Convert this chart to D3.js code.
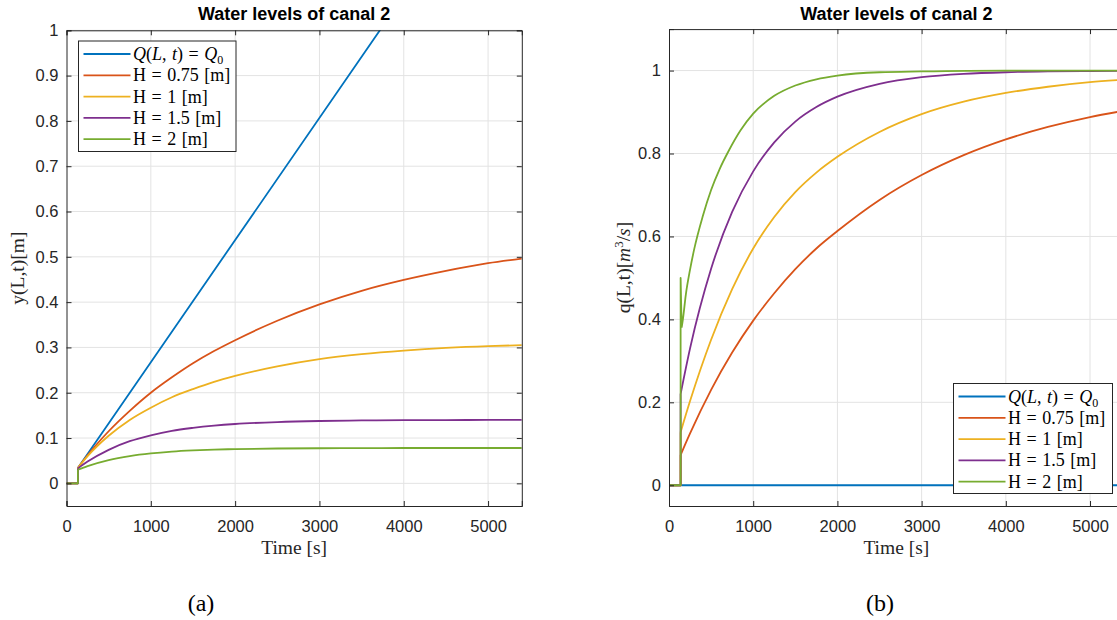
<!DOCTYPE html>
<html>
<head>
<meta charset="utf-8">
<script src="https://cdn.jsdelivr.net/npm/d3@7"></script>
<style>
  html, body { margin: 0; padding: 0; background: #ffffff; }
  svg { display: block; }
</style>
</head>
<body>
<svg id="chart" width="1117" height="620"></svg>
<script>
// ---------- Data ----------
// Series labels and colours (MATLAB default palette)
const seriesNames = ["Q(L,t) = Q0", "H = 0.75 [m]", "H = 1 [m]", "H = 1.5 [m]", "H = 2 [m]"];
const seriesColors = ["#0072BD", "#D95319", "#EDB120", "#7E2F8E", "#77AC30"];

// Panel (a): water level y(L,t) [m] versus time [s]
const levelQ0Time = [0, 135, 135, 5400];
const levelQ0 = [0, 0, 0.034, 1.454];
const levelTime = [0, 135, 135, 250, 500, 750, 1000, 1250, 1500, 1750, 2000, 2500, 3000, 3500, 4000, 4500, 5000, 5400];
const levelH075 = [0, 0, 0.034, 0.062, 0.115, 0.160, 0.200, 0.234, 0.265, 0.292, 0.316, 0.359, 0.395, 0.425, 0.449, 0.469, 0.486, 0.496];
const levelH1 = [0, 0, 0.034, 0.060, 0.105, 0.140, 0.167, 0.190, 0.208, 0.224, 0.237, 0.258, 0.274, 0.285, 0.293, 0.299, 0.303, 0.305];
const levelH15 = [0, 0, 0.033, 0.048, 0.074, 0.093, 0.106, 0.116, 0.1225, 0.1274, 0.131, 0.1353, 0.1376, 0.1388, 0.1394, 0.1397, 0.1399, 0.140];
const levelH2 = [0, 0, 0.030, 0.038, 0.0513, 0.0601, 0.066, 0.070, 0.0726, 0.0744, 0.0756, 0.0769, 0.0775, 0.0778, 0.078, 0.078, 0.078, 0.078];

// Panel (b): discharge q(L,t) [m^3/s] versus time [s]
const flowQ0Time = [0, 5400];
const flowQ0 = [0, 0];
const flowTime = [0, 138, 138, 250, 500, 750, 1000, 1250, 1500, 1750, 2000, 2500, 3000, 3500, 4000, 4500, 5000, 5400];
const flowH075 = [0, 0, 0.073, 0.125, 0.230, 0.320, 0.397, 0.463, 0.521, 0.571, 0.613, 0.688, 0.748, 0.796, 0.834, 0.864, 0.888, 0.903];
const flowH1 = [0, 0, 0.128, 0.203, 0.351, 0.473, 0.571, 0.647, 0.707, 0.754, 0.792, 0.852, 0.895, 0.925, 0.946, 0.961, 0.972, 0.978];
const flowH15 = [0, 0, 0.220, 0.330, 0.522, 0.659, 0.757, 0.827, 0.877, 0.912, 0.937, 0.968, 0.984, 0.992, 0.996, 0.998, 0.999, 0.9995];
const flowH2Time = [0, 138, 138, 150, 165, 200, 250, 300, 400, 500, 600, 700, 850, 1000, 1250, 1500, 1750, 2000, 2500, 3000, 4000, 5400];
const flowH2 = [0, 0, 0.500, 0.380, 0.400, 0.460, 0.520, 0.570, 0.648, 0.712, 0.762, 0.803, 0.856, 0.896, 0.939, 0.964, 0.979, 0.988, 0.996, 0.998, 1.000, 1.000];

// Axis ticks
const timeTicks = [0, 1000, 2000, 3000, 4000, 5000];
const levelTicks = [0, 0.1, 0.2, 0.3, 0.4, 0.5, 0.6, 0.7, 0.8, 0.9, 1];
const flowTicks = [0, 0.2, 0.4, 0.6, 0.8, 1];

const titleText = "Water levels of canal 2";

// ---------- Drawing ----------
const svg = d3.select("#chart");
svg.append("rect").attr("width", 1117).attr("height", 620).attr("fill", "#ffffff");

const SERIF = "'Liberation Serif', 'DejaVu Serif', serif";
const SANS = "'Liberation Sans', Arial, Helvetica, sans-serif";

function zip(ts, vs) { return ts.map((t, i) => [t, vs[i]]); }

// Build a path: straight segments through the start-up step, smooth curve after it
function seriesPath(pts, x, y) {
  let k = 0;
  for (let i = 1; i < pts.length; i++) {
    if (pts[i][0] === pts[i - 1][0] || pts[i][1] < pts[i - 1][1]) k = i;
  }
  const lin = d3.line().x(d => x(d[0])).y(d => y(d[1])).curve(d3.curveLinear);
  const smooth = d3.line().x(d => x(d[0])).y(d => y(d[1])).curve(d3.curveMonotoneX);
  const a = lin(pts.slice(0, k + 1));
  const rest = pts.slice(k);
  return rest.length > 1 ? a + smooth(rest) : a;
}

function addLegendLabel(textSel, name) {
  if (name === "Q(L,t) = Q0") {
    textSel.append("tspan").attr("font-style", "italic").text("Q");
    textSel.append("tspan").text("(");
    textSel.append("tspan").attr("font-style", "italic").text("L");
    textSel.append("tspan").text(", ");
    textSel.append("tspan").attr("font-style", "italic").text("t");
    textSel.append("tspan").text(") = ");
    textSel.append("tspan").attr("font-style", "italic").text("Q");
    textSel.append("tspan").attr("font-size", "12px").attr("dy", 4).text("0");
  } else {
    textSel.text(name);
  }
}

function drawPanel(opt) {
  const g = svg.append("g");
  const x = d3.scaleLinear().domain([0, 5400]).range([opt.left, opt.left + opt.width]);
  const y = d3.scaleLinear().domain(opt.yDomain).range([opt.bottom, opt.top]);
  const x0 = opt.left, x1 = opt.left + opt.width, y0 = opt.bottom, y1 = opt.top;

  // grid
  g.append("g").selectAll("line").data(timeTicks.filter(t => t > 0)).join("line")
    .attr("x1", d => x(d)).attr("x2", d => x(d)).attr("y1", y0).attr("y2", y1)
    .attr("stroke", "#e3e3e3").attr("stroke-width", 1);
  g.append("g").selectAll("line").data(opt.yTicks).join("line")
    .attr("x1", x0).attr("x2", x1).attr("y1", d => y(d)).attr("y2", d => y(d))
    .attr("stroke", "#e3e3e3").attr("stroke-width", 1);

  // series, clipped to the axes box
  const clipId = "clip-" + opt.id;
  svg.append("clipPath").attr("id", clipId).append("rect")
    .attr("x", x0).attr("y", y1).attr("width", x1 - x0).attr("height", y0 - y1);
  const lines = g.append("g").attr("clip-path", `url(#${clipId})`);
  opt.series.forEach((s, i) => {
    lines.append("path")
      .attr("d", seriesPath(zip(s[0], s[1]), x, y))
      .attr("fill", "none").attr("stroke", seriesColors[i])
      .attr("stroke-width", 1.8).attr("stroke-linejoin", "round");
  });

  // axes: bottom and left with labels, top and right mirrored without labels
  const tick = 5;
  const axB = d3.axisBottom(x).tickValues(timeTicks).tickSize(-tick).tickPadding(14).tickFormat(d3.format("d"));
  const axT = d3.axisTop(x).tickValues(timeTicks).tickSize(-tick).tickFormat("");
  const axL = d3.axisLeft(y).tickValues(opt.yTicks).tickSize(-tick).tickPadding(8).tickFormat(d => String(+d.toFixed(2)));
  const axR = d3.axisRight(y).tickValues(opt.yTicks).tickSize(-tick).tickFormat("");
  const axes = [
    g.append("g").attr("transform", `translate(0,${y0})`).call(axB),
    g.append("g").attr("transform", `translate(0,${y1})`).call(axT),
    g.append("g").attr("transform", `translate(${x0},0)`).call(axL),
    g.append("g").attr("transform", `translate(${x1},0)`).call(axR)
  ];
  axes.forEach(a => {
    a.select(".domain").attr("stroke", "#262626").attr("stroke-width", 1);
    a.selectAll(".tick line").attr("stroke", "#262626").attr("stroke-width", 1);
    a.selectAll(".tick text").attr("fill", "#262626").attr("font-family", SANS).attr("font-size", "16.5px");
  });

  // title
  g.append("text").attr("x", (x0 + x1) / 2).attr("y", 20).attr("text-anchor", "middle")
    .attr("font-family", SANS).attr("font-weight", "bold").attr("font-size", "18px")
    .attr("fill", "#000").text(titleText);

  // axis labels
  g.append("text").attr("x", (x0 + x1) / 2).attr("y", 554).attr("text-anchor", "middle")
    .attr("font-family", SERIF).attr("font-size", "19.5px").attr("fill", "#262626").text("Time [s]");
  const yl = g.append("text")
    .attr("transform", `translate(${opt.ylabelX},${(y0 + y1) / 2}) rotate(-90)`)
    .attr("text-anchor", "middle").attr("font-family", SERIF).attr("font-size", "19.5px").attr("fill", "#262626");
  opt.ylabel(yl);

  // legend
  const L = opt.legend;
  const lg = g.append("g").attr("transform", `translate(${L.x},${L.y})`);
  lg.append("rect").attr("width", L.w).attr("height", L.h)
    .attr("fill", "#ffffff").attr("stroke", "#262626").attr("stroke-width", 1);
  seriesNames.forEach((name, i) => {
    const cy = 13 + i * 21.3;
    lg.append("line").attr("x1", 5).attr("x2", 52).attr("y1", cy).attr("y2", cy)
      .attr("stroke", seriesColors[i]).attr("stroke-width", 1.8);
    const t = lg.append("text").attr("x", 54.5).attr("y", cy + 6)
      .attr("font-family", SERIF).attr("font-size", "18px").attr("word-spacing", "1px").attr("fill", "#000");
    addLegendLabel(t, name);
  });

  // caption
  svg.append("text").attr("x", opt.captionX).attr("y", 611).attr("text-anchor", "middle")
    .attr("font-family", SERIF).attr("font-size", "24px").attr("fill", "#000").text(opt.caption);
}

drawPanel({
  id: "a", left: 66.5, width: 455.3, top: 30.3, bottom: 506,
  yDomain: [-0.05, 1], yTicks: levelTicks,
  series: [[levelQ0Time, levelQ0], [levelTime, levelH075], [levelTime, levelH1], [levelTime, levelH15], [levelTime, levelH2]],
  ylabelX: 24,
  ylabel: t => t.text("y(L,t)[m]"),
  legend: { x: 78.5, y: 41, w: 157.5, h: 110.5 },
  caption: "(a)", captionX: 201
});

drawPanel({
  id: "b", left: 669, width: 454.7, top: 29.1, bottom: 506,
  yDomain: [-0.05, 1.1], yTicks: flowTicks,
  series: [[flowQ0Time, flowQ0], [flowTime, flowH075], [flowTime, flowH1], [flowTime, flowH15], [flowH2Time, flowH2]],
  ylabelX: 630,
  ylabel: t => {
    t.append("tspan").text("q(L,t)[");
    t.append("tspan").attr("font-style", "italic").text("m");
    t.append("tspan").attr("font-size", "13px").attr("dy", -7).text("3");
    t.append("tspan").attr("dy", 7).text("/");
    t.append("tspan").attr("font-style", "italic").text("s");
    t.append("tspan").text("]");
  },
  legend: { x: 953.5, y: 383.5, w: 159, h: 110 },
  caption: "(b)", captionX: 880
});
</script>
</body>
</html>
